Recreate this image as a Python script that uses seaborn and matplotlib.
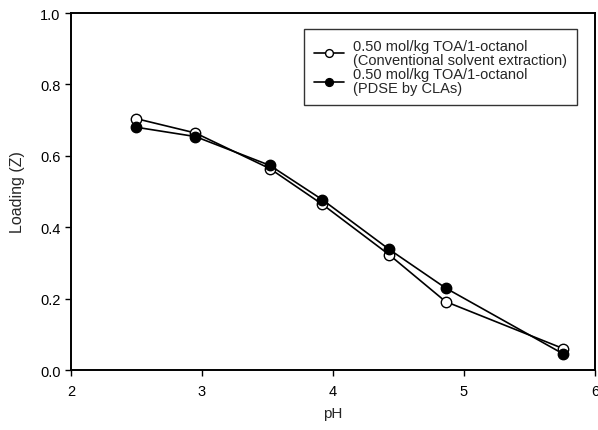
import matplotlib
matplotlib.use("Agg")
import matplotlib.pyplot as plt
import seaborn as sns
import pandas as pd

ph = [2.50, 2.95, 3.52, 3.92, 4.43, 4.86, 5.76]
conventional = [0.704, 0.664, 0.564, 0.464, 0.323, 0.192, 0.060]
pdse = [0.680, 0.654, 0.573, 0.477, 0.338, 0.230, 0.045]
label_conv = "0.50 mol/kg TOA/1-octanol\n(Conventional solvent extraction)"
label_pdse = "0.50 mol/kg TOA/1-octanol\n(PDSE by CLAs)"
xticks = [2, 3, 4, 5, 6]
yticks = [0.0, 0.2, 0.4, 0.6, 0.8, 1.0]

sns.set_style("ticks")
plt.rcParams['font.family'] = ['Liberation Sans', 'DejaVu Sans']

fig = plt.figure(figsize=(5.98, 4.31), dpi=100)
ax = fig.add_axes([0.1187, 0.139, 0.876, 0.8285])

df_conv = pd.DataFrame({"pH": ph, "Z": conventional})
df_pdse = pd.DataFrame({"pH": ph, "Z": pdse})

sns.lineplot(data=df_conv, x="pH", y="Z", ax=ax, color="black", lw=1.2,
             marker="o", markersize=7.5, markerfacecolor="white",
             markeredgecolor="black", markeredgewidth=1.0, label=label_conv)
sns.lineplot(data=df_pdse, x="pH", y="Z", ax=ax, color="black", lw=1.2,
             marker="o", markersize=7.5, markerfacecolor="black",
             markeredgecolor="black", markeredgewidth=1.0, label=label_pdse)

ax.set_xlim(2, 6)
ax.set_ylim(0, 1.0)
ax.set_xticks(xticks)
ax.set_yticks(yticks)
ax.set_xticklabels([str(t) for t in xticks])
ax.set_yticklabels([f"{t:.1f}" for t in yticks])
ax.tick_params(direction="out", length=4, width=1, labelsize=10.5, colors="black")
ax.tick_params(axis="x", pad=6)
for s in ax.spines.values():
    s.set_visible(True)
    s.set_linewidth(1.4)
    s.set_color("black")
ax.set_xlabel("pH", fontsize=11, labelpad=6)
ax.set_ylabel("Loading (Z)", fontsize=11.5, labelpad=11)

leg = ax.legend(loc="upper right", bbox_to_anchor=(0.9656, 0.955), borderaxespad=0,
                fontsize=10.5, frameon=True, fancybox=False, edgecolor="black",
                handlelength=2.05, borderpad=0.7, labelspacing=0.05,
                handletextpad=0.6, markerscale=0.75)
leg.get_frame().set_linewidth(1.0)
for t in leg.get_texts():
    t.set_linespacing(0.95)

fig.savefig("out.png", dpi=100)
